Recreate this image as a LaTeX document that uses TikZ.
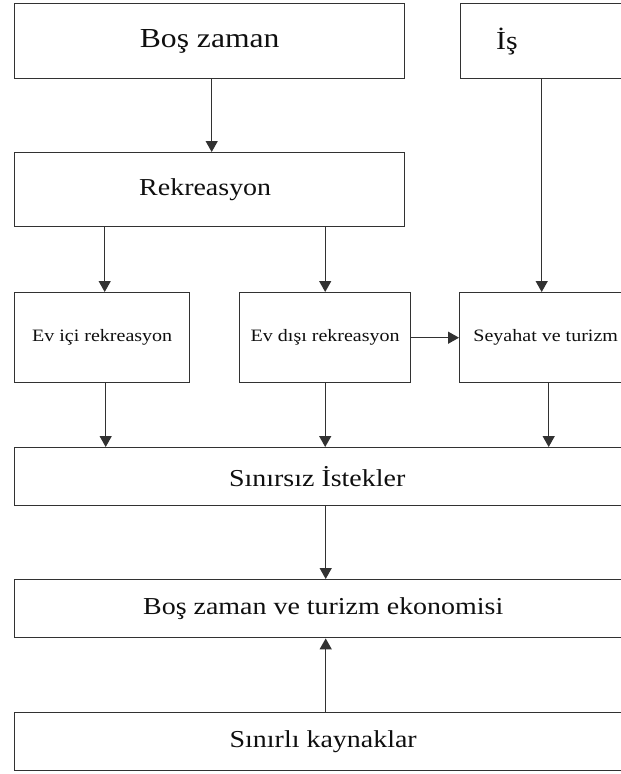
\documentclass[tikz,border=0pt]{standalone}
\usepackage{fontspec}
\setmainfont{Liberation Serif}[FakeStretch=1.15]
\usetikzlibrary{arrows.meta,calc}
\definecolor{linec}{RGB}{50,50,50}
\definecolor{textc}{RGB}{15,15,15}
\tikzset{
  box/.style={draw=linec, line width=1.4pt, fill=white, anchor=north west, inner sep=0pt, text=textc},
  arr/.style={draw=linec, line width=1.4pt, -{Triangle[width=12pt,length=11pt]}},
  big/.style={font=\fontsize{24.3pt}{29pt}\selectfont},
  bigger/.style={font=\fontsize{27.5pt}{33pt}\selectfont},
  small/.style={font=\fontsize{17.4pt}{21pt}\selectfont}
}
\begin{document}
\begin{tikzpicture}[x=1pt,y=-1pt]
\useasboundingbox (0,0) rectangle (621,774);
\clip (0,0) rectangle (621,774);
\fill[white] (0,0) rectangle (621,774);
% boxes
\node[box, bigger, minimum width=390pt, minimum height=75pt] (bos) at (14,3) {Boş zaman};
\node[box, minimum width=180pt, minimum height=75pt] (is) at (460,3) {};
\node[anchor=west, inner sep=0pt, text=textc, font=\fontsize{26pt}{31pt}\selectfont] (istext) at (496,42) {İş};
\node[box, big, minimum width=390pt, minimum height=74pt] (rek) at (14,152) {\hspace*{-9pt}Rekreasyon};
\node[box, small, minimum width=175pt, minimum height=90pt] (evici) at (14,292) {Ev içi rekreasyon};
\node[box, small, minimum width=171pt, minimum height=90pt] (evdisi) at (239,292) {Ev dışı rekreasyon};
\node[box, small, minimum width=172pt, minimum height=90pt] (sey) at (459,292) {Seyahat ve turizm};
\node[box, big, minimum width=617pt, minimum height=58pt] (sinirsiz) at (14,447) {\hspace*{-12pt}Sınırsız İstekler};
\node[box, big, minimum width=617pt, minimum height=58pt] (eko) at (14,579) {Boş zaman ve turizm ekonomisi};
\node[box, big, minimum width=617pt, minimum height=58pt] (sinirli) at (14,712) {Sınırlı kaynaklar};
% connectors
\draw[arr] ([xshift=2pt]bos.south) -- ([xshift=2pt]bos.south |- rek.north);
\draw[arr] ([xshift=2.5pt]evici.north |- rek.south) -- ([xshift=2.5pt]evici.north);
\draw[arr] (evdisi.north |- rek.south) -- (evdisi.north);
\draw[arr] ([xshift=-4pt]sey.north |- is.south) -- ([xshift=-4pt]sey.north);
\draw[arr] (evdisi.east) -- (sey.west);
\draw[arr] ([xshift=3.5pt]evici.south) -- ([xshift=3.5pt]evici.south |- sinirsiz.north);
\draw[arr] (evdisi.south) -- (evdisi.south |- sinirsiz.north);
\draw[arr] ([xshift=3pt]sey.south) -- ([xshift=3pt]sey.south |- sinirsiz.north);
\draw[arr] ([xshift=2.5pt]sinirsiz.south) -- ([xshift=2.5pt]eko.north);
\draw[arr] ([xshift=2.5pt]sinirli.north) -- ([xshift=2.5pt]eko.south);
\end{tikzpicture}
\end{document}
